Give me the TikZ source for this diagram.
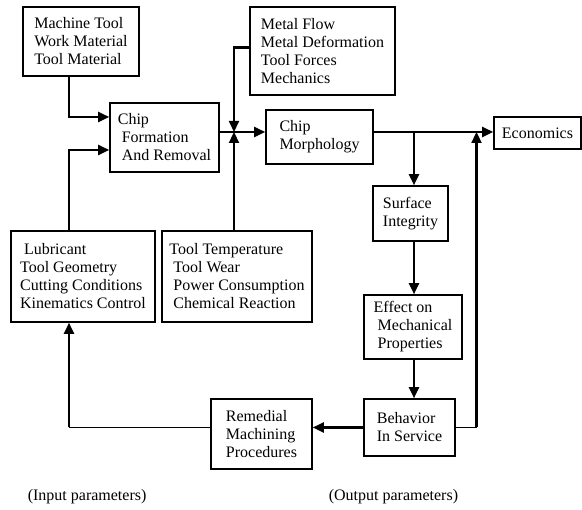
\documentclass[tikz,border=0pt]{standalone}
\usepackage{fontspec}
\setmainfont{Liberation Serif}
\usetikzlibrary{arrows.meta}

\begin{document}
\begin{tikzpicture}[x=1pt,y=1pt,line width=1.6pt,>={Triangle[length=11pt,width=10pt]},
  every node/.style={font=\fontsize{16}{18}\selectfont},
  box/.style={draw,align=left,inner sep=0pt},
  flow/.style={line width=2.2pt},
  thinflow/.style={line width=1.4pt}]
\useasboundingbox (0,0) rectangle (582,510);
% ---- input side ----
\node[box,minimum width=116,minimum height=69] (mtool) at (81,468.5)
  {Machine Tool\\Work Material\\Tool Material};
\node[box,minimum width=109,minimum height=69] (chipform) at (164.5,372.5)
  {Chip\\\ Formation\\\ And Removal};
\node[box,minimum width=144,minimum height=91] (lubr) at (83,233.5)
  {\ Lubricant\\Tool Geometry\\Cutting Conditions\\Kinematics Control};
\node[box,minimum width=150,minimum height=91] (ttemp) at (237,233.5)
  {Tool Temperature\\\ Tool Wear\\\ Power Consumption\\\ Chemical Reaction};
\node[box,minimum width=145,minimum height=88] (metal) at (322.5,459)
  {Metal Flow\\Metal Deformation\\Tool Forces\\Mechanics};
% ---- output side ----
\node[box,minimum width=107,minimum height=54] (morph) at (319.5,373)
  {Chip\\Morphology};
\node[box,minimum width=87,minimum height=32] (econ) at (537.5,377)
  {Economics};
\node[box,minimum width=75,minimum height=55] (surf) at (410.5,296.5)
  {Surface\\Integrity};
\node[box,minimum width=98,minimum height=64] (effect) at (413,183)
  {Effect on\\\ Mechanical\\\ Properties};
\node[box,minimum width=91,minimum height=57] (behav) at (409.5,82.5)
  {Behavior\\In Service};
\node[box,minimum width=101,minimum height=70] (remed) at (261.5,76)
  {Remedial\\Machining\\Procedures};
% ---- captions ----
\node[anchor=west,inner sep=0pt] (incap) at (27,13) {(Input parameters)};
\node[anchor=west,inner sep=0pt] (outcap) at (328,13) {(Output parameters)};
% ---- junctions ----
\coordinate (inx) at (69,0);
\coordinate (J) at (234,378);
\coordinate (B) at (414,378);
\coordinate (R) at (476.5,378);
% inputs into chip formation
\draw[flow,->] (mtool.south -| inx) |- ([yshift=20.5]chipform.west);
\draw[flow,->] (lubr.north -| inx) |- ([yshift=-12.5]chipform.west);
\draw[flow,->] ([yshift=3.5]metal.west) -| (J);
\draw[flow,->] (J |- ttemp.north) -- (J);
\draw[flow,->] (chipform.east |- J) -- (morph.west |- J);
% outputs
\draw[flow,->] (morph.east |- J) -- (econ.west |- J);
\draw[flow,->] (B) -- (B |- surf.north);
\draw[flow,->] (B |- surf.south) -- (B |- effect.north);
\draw[flow,->] (B |- effect.south) -- (B |- behav.north);
\draw[thinflow] (behav.east) -- (behav.east -| R);
\draw[flow,->] (behav.east -| R) -- (R);
% feedback loop
\draw[flow,->] (behav.west) -- (remed.east |- behav.west);
\draw[thinflow] (remed.west |- behav.west) -- (behav.west -| inx);
\draw[flow,->] (behav.west -| inx) -- (lubr.south -| inx);
\end{tikzpicture}
\end{document}
